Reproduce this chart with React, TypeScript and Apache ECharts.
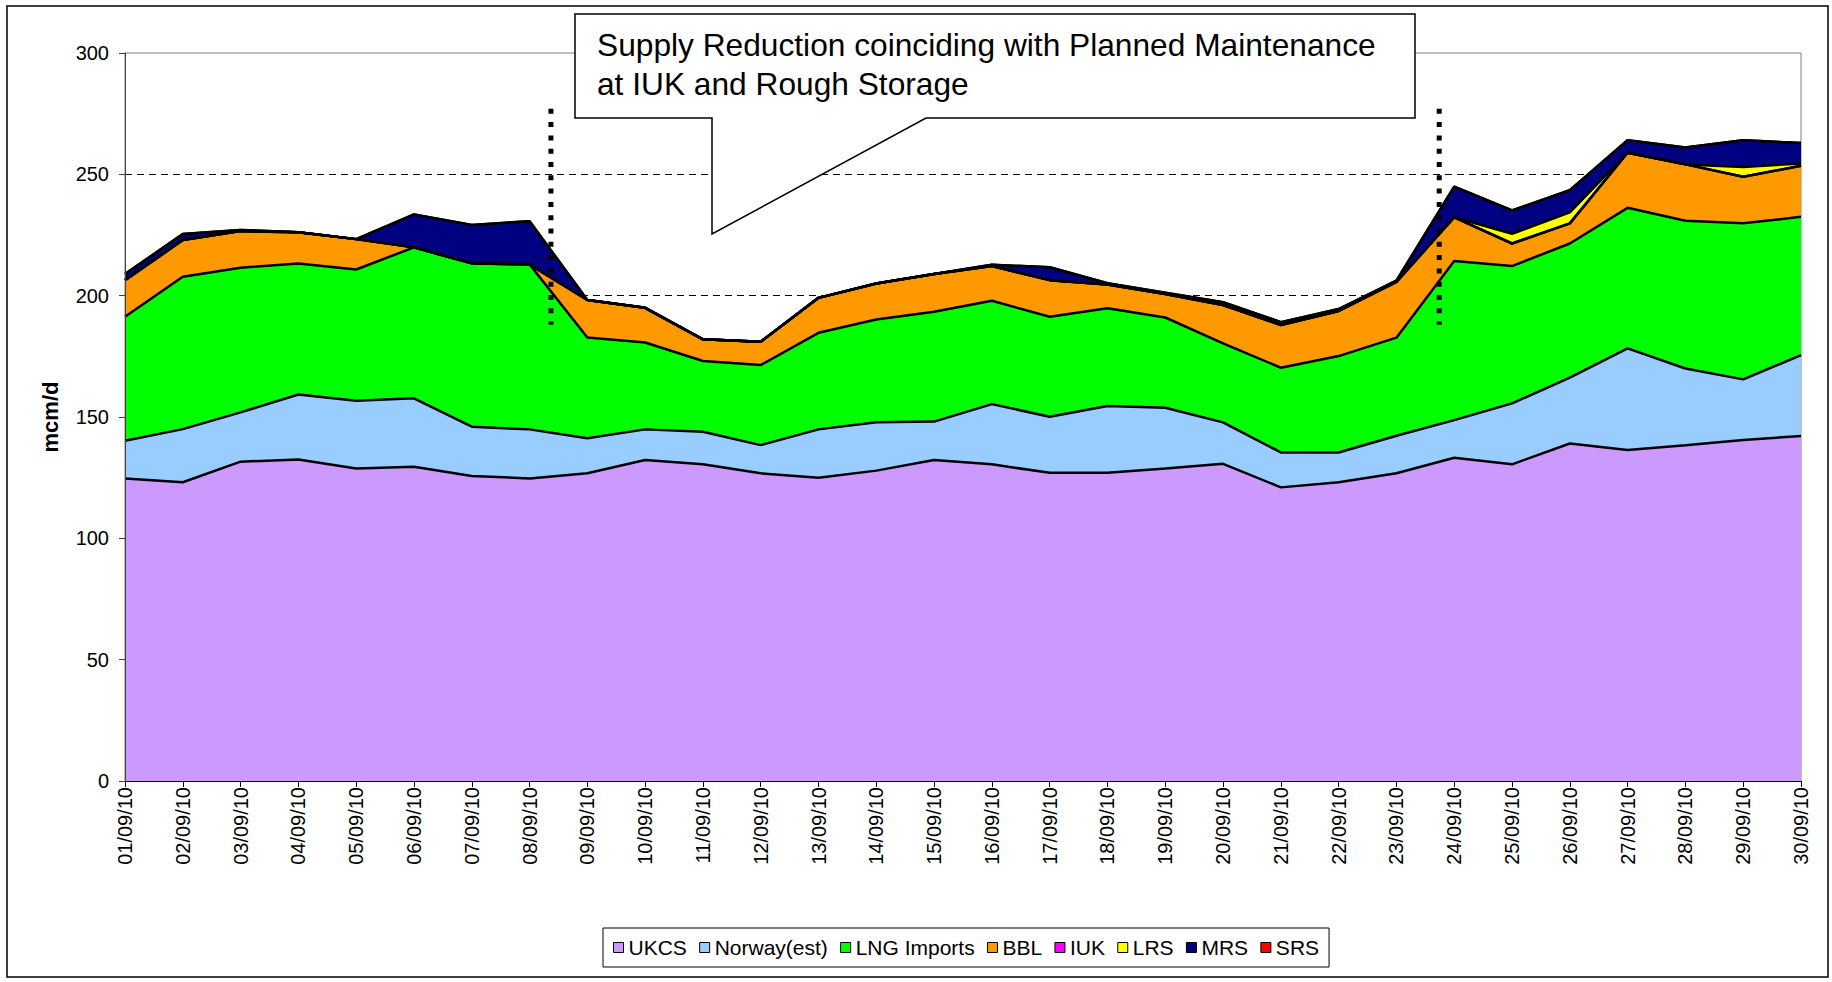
import React, { useEffect, useRef } from "react";
import * as echarts from "echarts";

const dates = [
  "01/09/10", "02/09/10", "03/09/10", "04/09/10", "05/09/10", "06/09/10", "07/09/10", "08/09/10", "09/09/10", "10/09/10",
  "11/09/10", "12/09/10", "13/09/10", "14/09/10", "15/09/10", "16/09/10", "17/09/10", "18/09/10", "19/09/10", "20/09/10",
  "21/09/10", "22/09/10", "23/09/10", "24/09/10", "25/09/10", "26/09/10", "27/09/10", "28/09/10", "29/09/10", "30/09/10",
];

const ukcs = [124.7, 123.1, 131.6, 132.5, 128.8, 129.5, 125.7, 124.7, 126.8, 132.3, 130.5, 126.8, 125.0, 127.9, 132.3, 130.5, 127.0, 127.0, 128.8, 130.7, 121.0, 123.1, 126.8, 133.2, 130.5, 139.1, 136.4, 138.4, 140.5, 142.2];
const norway = [15.5, 21.9, 20.3, 26.8, 27.9, 28.2, 20.3, 20.2, 14.4, 12.6, 13.4, 11.6, 19.9, 19.9, 15.8, 24.8, 23.1, 27.5, 25.0, 17.1, 14.4, 12.3, 15.5, 15.5, 25.1, 27.1, 41.9, 31.6, 25.0, 33.3];
const lng = [51.1, 62.8, 59.6, 54.0, 54.1, 62.2, 67.3, 68.0, 41.6, 35.8, 29.2, 33.0, 39.8, 42.4, 45.3, 42.6, 41.2, 40.3, 37.2, 32.5, 34.9, 39.7, 40.4, 65.6, 56.6, 55.3, 57.9, 60.9, 64.3, 57.0];
const bbl = [15.1, 15.1, 15.1, 12.8, 12.5, 0, 0, 0, 15.4, 14.3, 8.9, 9.6, 14.4, 14.8, 15.5, 14.3, 15.1, 9.8, 9.7, 15.8, 17.6, 18.6, 23.0, 18.0, 9.3, 8.3, 22.7, 23.2, 19.2, 21.0];
const iuk = [0, 0, 0, 0, 0, 0, 0, 0, 0, 0, 0, 0, 0, 0, 0, 0, 0, 0, 0, 0, 0, 0, 0, 0, 0, 0, 0, 0, 0, 0];
const lrs = [0, 0, 0, 0, 0, 0, 0, 0, 0, 0, 0, 0, 0, 0, 0, 0, 0, 0, 0, 0, 0, 0, 0, 0, 4.0, 4.5, 0, 0, 4.0, 1.0];
const mrs = [2.5, 2.5, 0.5, 0, 0, 13.6, 15.8, 17.8, 0, 0, 0, 0, 0, 0, 0, 0.5, 5.3, 0.5, 0.5, 1.2, 1.2, 0.8, 0.5, 12.6, 9.6, 9.2, 5.2, 7.0, 11.0, 8.4];
const srs = [0, 0, 0, 0, 0, 0, 0, 0, 0, 0, 0, 0, 0, 0, 0, 0, 0, 0, 0, 0, 0, 0, 0, 0, 0, 0, 0, 0, 0, 0];

const seriesNames = ["UKCS", "Norway(est)", "LNG Imports", "BBL", "IUK", "LRS", "MRS", "SRS"];
const seriesColors = ["#CC99FF", "#99CCFF", "#00FF00", "#FF9900", "#FF00FF", "#FFFF00", "#000080", "#FF0000"];
const seriesData = [ukcs, norway, lng, bbl, iuk, lrs, mrs, srs];

// maintenance markers (category position, value range)
const markerPositions = [7.37, 22.74];
const markerTop = 277;
const markerBottom = 188;

const yTicks = { min: 0, max: 300, interval: 50 };
const annotationLines = ["Supply Reduction coinciding with Planned Maintenance", "at IUK and Rough Storage"];

const FONT = "'Liberation Sans', Arial, sans-serif";

export default function App() {
  const ref = useRef<HTMLDivElement>(null);
  useEffect(() => {
    if (!ref.current) return;
    const chart = echarts.init(ref.current, null, { renderer: "svg" });
    const areaSeries = seriesNames.map((name, i) => ({
      name,
      type: "line",
      stack: "supply",
      data: seriesData[i],
      showSymbol: false,
      symbol: "none",
      lineStyle: { color: "#000", width: 2.5 },
      itemStyle: { color: seriesColors[i], borderColor: "#000", borderWidth: 1 },
      areaStyle: { color: seriesColors[i], opacity: 1 },
      z: 2,
    }));
    const markerSeries = markerPositions.map((x) => ({
      type: "line",
      xAxisIndex: 1,
      yAxisIndex: 0,
      data: [
        [x, markerTop],
        [x, markerBottom],
      ],
      showSymbol: false,
      symbol: "none",
      silent: true,
      lineStyle: { color: "#000", width: 5, type: [5, 8.3], cap: "butt" },
      z: 5,
    }));
    const option = {
      animation: false,
      textStyle: { fontFamily: FONT, color: "#000" },
      grid: {
        left: 125,
        right: 31,
        top: 53,
        bottom: 201,
        show: true,
        borderColor: "#808080",
        borderWidth: 1,
        containLabel: false,
      },
      legend: {
        data: seriesNames,
        left: 603,
        top: 928,
        orient: "horizontal",
        padding: [9, 10, 9, 10],
        borderColor: "#000",
        borderWidth: 1,
        itemGap: 12.3,
        itemWidth: 10,
        itemHeight: 10,
        icon: "rect",
        itemStyle: { borderColor: "#000", borderWidth: 1 },
        textStyle: { fontSize: 21, fontFamily: FONT, color: "#000" },
        selectedMode: false,
      },
      xAxis: [
        {
          type: "category",
          data: dates,
          boundaryGap: false,
          axisLine: { show: true, lineStyle: { color: "#000", width: 1 } },
          axisTick: { show: true, interval: 0, length: 6, lineStyle: { color: "#000" } },
          axisLabel: { interval: 0, rotate: 90, fontSize: 20, color: "#000", margin: 6, fontFamily: FONT },
          splitLine: { show: false },
          z: 10,
        },
        {
          type: "value",
          min: 0,
          max: dates.length - 1,
          show: false,
        },
      ],
      yAxis: [
        {
          type: "value",
          min: yTicks.min,
          max: yTicks.max,
          interval: yTicks.interval,
          name: "mcm/d",
          nameLocation: "middle",
          nameRotate: 90,
          nameGap: 64,
          nameTextStyle: { fontSize: 22, fontWeight: "bold", color: "#000", fontFamily: FONT },
          axisLine: { show: true, lineStyle: { color: "#404040", width: 1 } },
          axisTick: { show: true, length: 6, lineStyle: { color: "#404040" } },
          axisLabel: { fontSize: 20, color: "#000", margin: 16, fontFamily: FONT },
          splitLine: { show: false },
          z: 10,
        },
        {
          type: "value",
          min: yTicks.min,
          max: yTicks.max,
          interval: yTicks.interval,
          axisLine: { show: false },
          axisTick: { show: false },
          axisLabel: { show: false },
          splitLine: {
            show: true,
            lineStyle: {
              color: ["#000", "#000", "#000", "#000", "#000", "#000", "transparent"],
              type: [7, 5],
              width: 1,
            },
          },
          z: 0,
        },
      ],
      graphic: [
        {
          type: "rect",
          shape: { x: 7, y: 6, width: 1821, height: 971 },
          style: { fill: "none", stroke: "#000", lineWidth: 1.5 },
          z: 0,
          silent: true,
        },
        {
          type: "polygon",
          shape: {
            points: [
              [575, 14],
              [1415, 14],
              [1415, 118],
              [926, 118],
              [712, 234],
              [712, 118],
              [575, 118],
            ],
          },
          style: { fill: "#fff", stroke: "#000", lineWidth: 1.5 },
          z: 100,
          silent: true,
        },
        {
          type: "text",
          x: 597,
          y: 45,
          style: {
            text: annotationLines[0],
            fontSize: 31.7,
            fontFamily: FONT,
            fill: "#000",
            align: "left",
            verticalAlign: "middle",
          },
          z: 101,
          silent: true,
        },
        {
          type: "text",
          x: 597,
          y: 84,
          style: {
            text: annotationLines[1],
            fontSize: 31.7,
            fontFamily: FONT,
            fill: "#000",
            align: "left",
            verticalAlign: "middle",
          },
          z: 101,
          silent: true,
        },
      ],
      series: [...areaSeries, ...markerSeries],
    };
    chart.setOption(option as any);
    return () => chart.dispose();
  }, []);
  return <div ref={ref} style={{ position: "absolute", left: 0, top: 0, width: 1832, height: 982 }} />;
}
